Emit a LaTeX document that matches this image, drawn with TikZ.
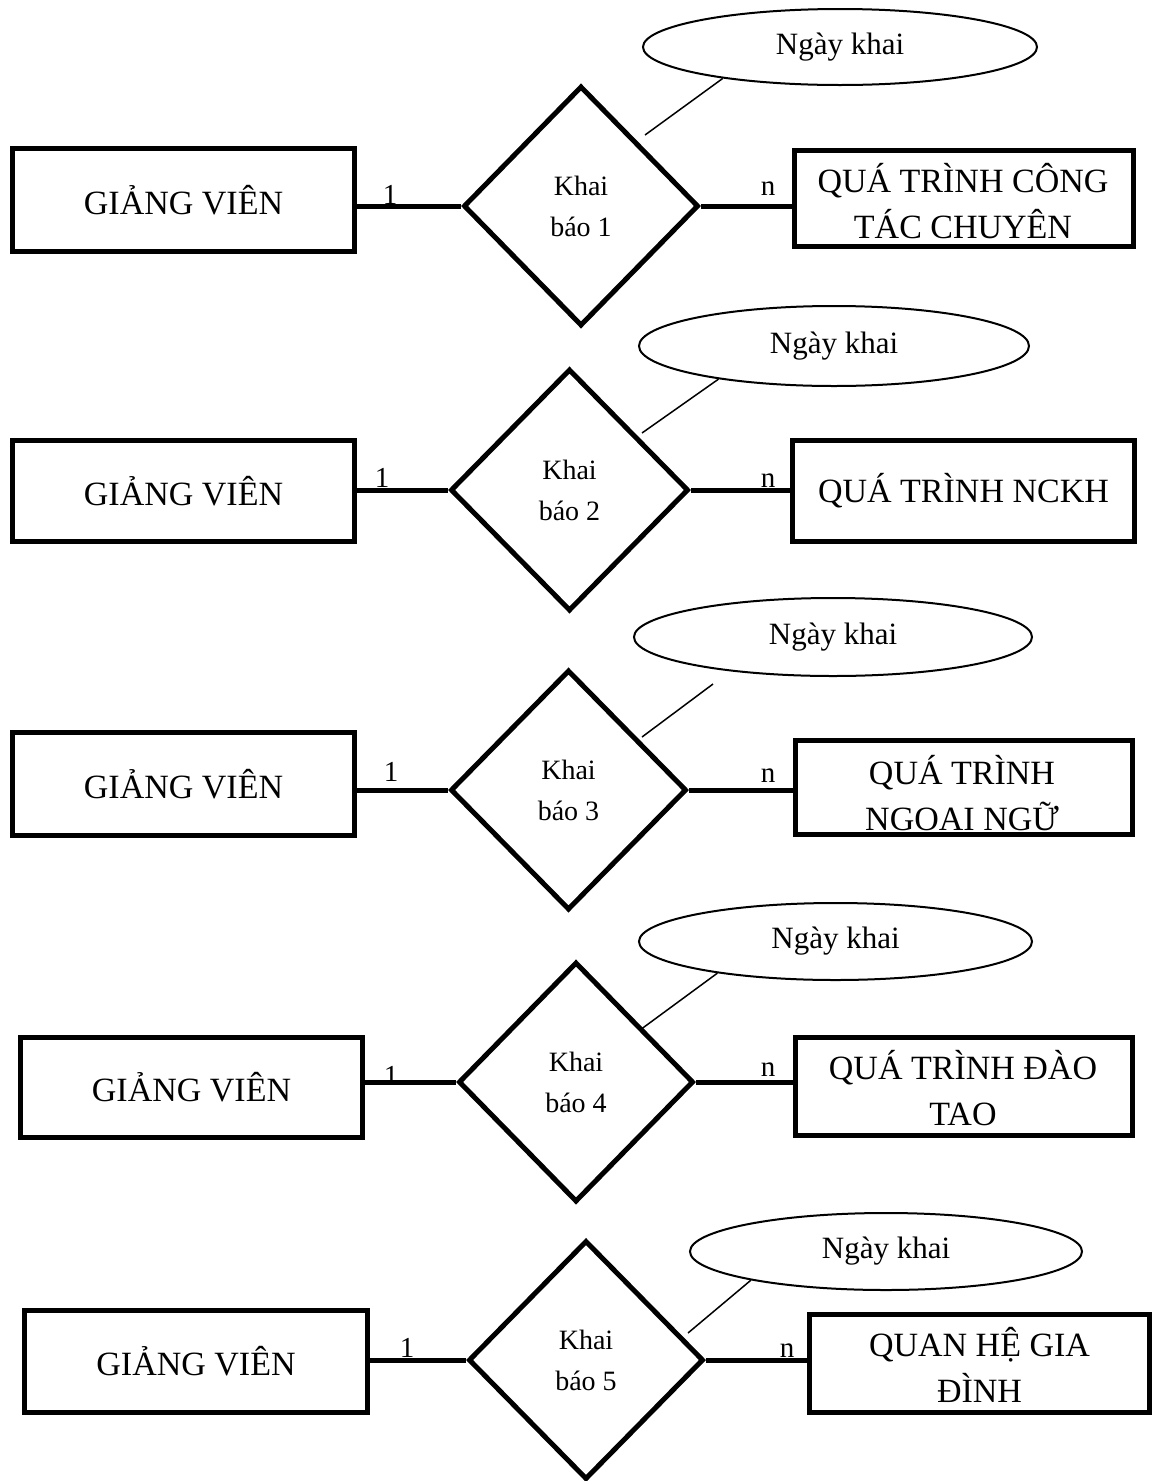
\documentclass[tikz,border=0pt]{standalone}
\usepackage{fontspec}
\setmainfont{Liberation Serif}
\usetikzlibrary{shapes.geometric}
\begin{document}
\begin{tikzpicture}[x=1pt,y=-1pt,
  ent/.style={draw, rectangle, line width=5pt, inner sep=0pt, align=center, font=\fontsize{34}{46}\selectfont},
  etext/.style={inner sep=0pt, align=center, font=\fontsize{34}{46}\selectfont},
  relship/.style={draw, diamond, line width=5pt, inner sep=0pt, align=center, font=\fontsize{28}{41}\selectfont},
  attrib/.style={draw, ellipse, line width=2pt, inner sep=0pt, font=\fontsize{31}{36}\selectfont},
  link/.style={line width=5pt},
  attrlink/.style={line width=1.5pt},
  card/.style={inner sep=0pt, anchor=base, font=\fontsize{29}{34}\selectfont}]
\useasboundingbox (0,0) rectangle (1154,1481);

% ---------- Row 1 ----------
\node[ent, minimum width=342, minimum height=103] (g1) at (183.5,200) {GIẢNG VIÊN};
\node[relship, minimum width=235, minimum height=240] (d1) at (581,206) {Khai\\báo 1};
\node[ent, minimum width=339, minimum height=96] (r1) at (964,198.5) {};
\node[etext, anchor=base] (r1t) at (963,238) {QUÁ TRÌNH CÔNG\\TÁC CHUYÊN};
\node[attrib, minimum width=394, minimum height=76] (a1) at (840,47) {Ngày khai};
\coordinate (c1) at (645,135);
\draw[link] (g1.east |- d1.west) -- (d1.west);
\draw[link] (d1.east) -- (r1.west |- d1.east);
\draw[attrlink] (a1.195) -- (c1);
\node[card] (l1) at (390,204) {1};
\node[card] (n1) at (768,195) {n};

% ---------- Row 2 ----------
\node[ent, minimum width=342, minimum height=101] (g2) at (183.5,491) {GIẢNG VIÊN};
\node[relship, minimum width=238, minimum height=242] (d2) at (569.5,490) {Khai\\báo 2};
\node[ent, minimum width=342, minimum height=101] (r2) at (963.5,491) {QUÁ TRÌNH NCKH};
\node[attrib, minimum width=390, minimum height=80] (a2) at (834,346) {Ngày khai};
\coordinate (c2) at (642,433);
\draw[link] (g2.east |- d2.west) -- (d2.west);
\draw[link] (d2.east) -- (r2.west |- d2.east);
\draw[attrlink] (a2.196) -- (c2);
\node[card] (l2) at (382,487) {1};
\node[card] (n2) at (768,487) {n};

% ---------- Row 3 ----------
\node[ent, minimum width=342, minimum height=103] (g3) at (183.5,784) {GIẢNG VIÊN};
\node[relship, minimum width=236, minimum height=240] (d3) at (568.5,790) {Khai\\báo 3};
\node[ent, minimum width=337, minimum height=94] (r3) at (964,787.5) {};
\node[etext, anchor=base] (r3t) at (962,830) {QUÁ TRÌNH\\NGOAI NGỮ};
\node[attrib, minimum width=398, minimum height=78] (a3) at (833,637) {Ngày khai};
\coordinate (s3) at (713,684);
\coordinate (c3) at (642,737);
\draw[link] (g3.east |- d3.west) -- (d3.west);
\draw[link] (d3.east) -- (r3.west |- d3.east);
\draw[attrlink] (s3) -- (c3);
\node[card] (l3) at (391,781) {1};
\node[card] (n3) at (768,782) {n};

% ---------- Row 4 ----------
\node[ent, minimum width=342, minimum height=100] (g4) at (191.5,1087.5) {GIẢNG VIÊN};
\node[relship, minimum width=235, minimum height=240] (d4) at (576,1082) {Khai\\báo 4};
\node[ent, minimum width=337, minimum height=98] (r4) at (964,1086.5) {};
\node[etext, anchor=base] (r4t) at (963,1125) {QUÁ TRÌNH ĐÀO\\TAO};
\node[attrib, minimum width=393, minimum height=77] (a4) at (835.5,941.5) {Ngày khai};
\coordinate (c4) at (640,1030);
\draw[link] (g4.east |- d4.west) -- (d4.west);
\draw[link] (d4.east) -- (r4.west |- d4.east);
\draw[attrlink] (a4.195) -- (c4);
\node[card] (l4) at (391,1085) {1};
\node[card] (n4) at (768,1076) {n};

% ---------- Row 5 ----------
\node[ent, minimum width=343, minimum height=102] (g5) at (196,1361.5) {GIẢNG VIÊN};
\node[relship, minimum width=235, minimum height=239] (d5) at (586,1360) {Khai\\báo 5};
\node[ent, minimum width=340, minimum height=98] (r5) at (979.5,1363.5) {};
\node[etext, anchor=base] (r5t) at (979.5,1402) {QUAN HỆ GIA\\ĐÌNH};
\node[attrib, minimum width=392, minimum height=77] (a5) at (886,1251.5) {Ngày khai};
\coordinate (c5) at (688,1333);
\draw[link] (g5.east |- d5.west) -- (d5.west);
\draw[link] (d5.east) -- (r5.west |- d5.east);
\draw[attrlink] (a5.192) -- (c5);
\node[card] (l5) at (407,1357) {1};
\node[card] (n5) at (787,1357) {n};
\end{tikzpicture}
\end{document}
